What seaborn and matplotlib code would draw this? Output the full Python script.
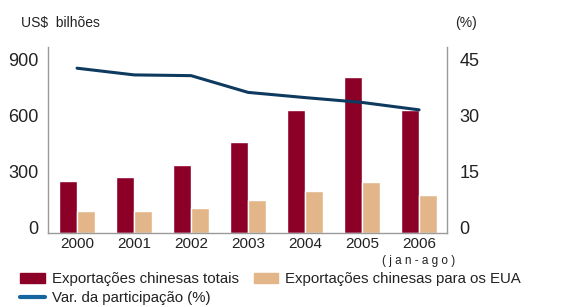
import numpy as np
import pandas as pd
import seaborn as sns
import matplotlib.pyplot as plt
from matplotlib.patches import Patch
from matplotlib.lines import Line2D
from matplotlib.transforms import ScaledTranslation

years = ['2000', '2001', '2002', '2003', '2004', '2005', '2006']
total_exports = [280, 301, 366, 489, 661, 840, 661]
us_exports = [118, 118, 134, 177, 226, 274, 204]
share_pct = [44.3, 42.5, 42.3, 37.8, 36.4, 35.1, 33.1]
series_names = ['Exportações chinesas totais', 'Exportações chinesas para os EUA']
line_name = 'Var. da participação (%)'

red = '#8c0028'
tan = '#e2b688'
navy = '#0d3a5e'
legend_blue = '#1565a0'
grey = '#9a9a9a'
txt = '#222222'

df = pd.DataFrame({
    'ano': years * 2,
    'valor': total_exports + us_exports,
    'serie': [series_names[0]] * len(years) + [series_names[1]] * len(years),
})

sns.set_style('white')
plt.rcParams['font.family'] = ['Liberation Sans', 'DejaVu Sans']

fig = plt.figure(figsize=(5.64, 3.07), dpi=100)
ax = fig.add_axes([48 / 564, 1 - 233 / 307, 399 / 564, 186 / 307])

sns.barplot(data=df, x='ano', y='valor', hue='serie', palette=[red, tan],
            width=0.64, gap=0, saturation=1, ax=ax, legend=False)
ax.set_xlim(-0.51, 6.49)
ax.set_ylim(0, 1000)
ax.set_yticks([0, 300, 600, 900])
ax.set_xlabel('')
ax.set_ylabel('')

ax2 = ax.twinx()
sns.lineplot(x=np.arange(len(years)), y=share_pct, color=navy, linewidth=2.2, ax=ax2)
ax2.set_ylim(0, 50)
ax2.set_yticks([0, 15, 30, 45])

for a in (ax, ax2):
    for s in a.spines.values():
        s.set_visible(False)
    a.tick_params(length=0, labelsize=13, colors=txt)
ax.spines['left'].set_visible(True)
ax.spines['bottom'].set_visible(True)
ax2.spines['right'].set_visible(True)
for s in (ax.spines['left'], ax.spines['bottom'], ax2.spines['right']):
    s.set_color(grey)
    s.set_linewidth(1.0)

ax.tick_params(axis='y', pad=7)
ax2.tick_params(axis='y', pad=9)
ax.tick_params(axis='x', labelsize=11, pad=3)
up = ScaledTranslation(0, 6 / 100, fig.dpi_scale_trans)
for lab in ax.get_yticklabels() + ax2.get_yticklabels():
    lab.set_transform(lab.get_transform() + up)

ax.text(6, -0.118, '( j a n - a g o )', transform=ax.get_xaxis_transform(),
        ha='center', va='top', fontsize=8.5, color=txt)

fig.text(21 / 564, 1 - 23 / 307, 'US$  bilhões', fontsize=10, color=txt, va='center')
fig.text(455 / 564, 1 - 23 / 307, '(%)', fontsize=10, color=txt, va='center')

handles = [Patch(color=red, label=series_names[0]),
           Line2D([], [], color=legend_blue, linewidth=3, label=line_name),
           Patch(color=tan, label=series_names[1])]
fig.legend(handles=handles, ncol=2, loc='upper left', bbox_to_anchor=(20 / 564, 1 - 272 / 307),
           frameon=False, fontsize=10.8, handlelength=1.65, handleheight=0.65,
           handletextpad=0.45, columnspacing=1.0, labelspacing=0.32, borderpad=0, borderaxespad=0,
           labelcolor=txt)

fig.savefig('out.png', dpi=100)
